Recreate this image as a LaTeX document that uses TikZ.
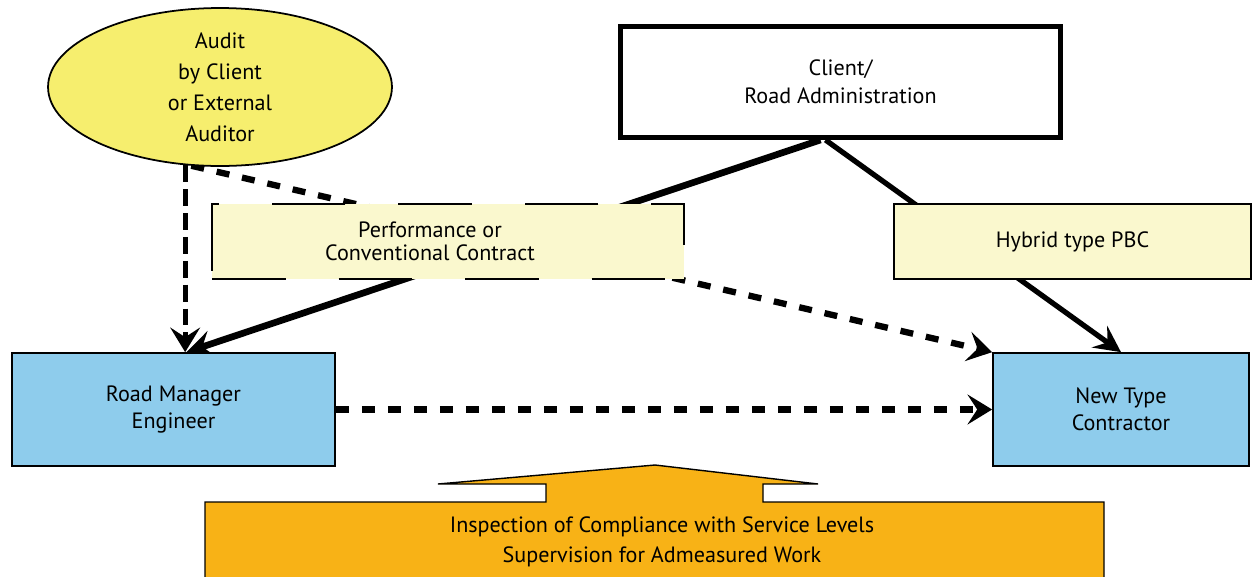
\documentclass[tikz,border=0pt]{standalone}
\usepackage{fontspec}
\setmainfont{PT Sans}
\usetikzlibrary{arrows.meta}
\usetikzlibrary{shapes.geometric}
\usetikzlibrary{backgrounds}

\definecolor{audityellow}{RGB}{246,238,110}
\definecolor{paleyellow}{RGB}{250,248,206}
\definecolor{partyblue}{RGB}{142,204,236}
\definecolor{checkorange}{RGB}{248,178,22}

\begin{document}
\begin{tikzpicture}[x=0.02cm,y=-0.02cm,
  every node/.style={align=center,inner sep=0pt,font=\fontsize{12.6}{16}\selectfont},
  party/.style={rectangle,draw=black,line width=1pt,fill=partyblue,minimum height=2.26cm,font=\fontsize{12.6}{15.3}\selectfont},
  contract/.style={rectangle,draw=black,line width=0.9pt,fill=paleyellow,minimum height=1.5cm},
  link/.style={line width=3.8pt,-{Stealth[length=15pt,width=15pt,inset=5.5pt]}},
  control/.style={line width=3.6pt,dash pattern=on 7.4pt off 7.4pt,-{Stealth[length=14pt,width=17pt,inset=5.5pt]}}]
\useasboundingbox (0,0) rectangle (1252,576);
\node at (220, 87) (auditor) [ellipse,draw=black,line width=1pt,fill=audityellow,minimum width=6.88cm,minimum height=3.16cm,font=\fontsize{12.6}{17.6}\selectfont] {Audit\\by Client\\or External\\Auditor};
\node at (840.5, 82) (client) [rectangle,draw=black,line width=2.8pt,fill=white,minimum width=8.8cm,minimum height=2.22cm,font=\fontsize{12.6}{15.9}\selectfont] {Client/\\Road Administration};
\node at (448, 241.5) (conventional) [contract,minimum width=9.44cm,dash pattern=on 42pt off 30pt,font=\fontsize{12.6}{13}\selectfont] {\hspace*{-0.72cm}Performance or\\\hspace*{-0.72cm}Conventional Contract};
\node at (1072.5, 241.5) (hybrid) [contract,minimum width=7.14cm] {Hybrid type PBC};
\node at (173.5, 409.5) (roadmgr) [party,minimum width=6.46cm] {Road Manager\\Engineer};
\node at (1121, 409.5) (contractor) [party,minimum width=5.12cm] {New Type\\Contractor};
\draw [fill=checkorange,line width=0.8pt] (205,620) -- (205,502) -- (546,502) -- (546,484) -- (438,484) -- (655,465) -- (818,484) -- (763,484) -- (763,502) -- (1104,502) -- (1104,620) -- cycle;
\node at (662, 542) (inspection) [font=\fontsize{12.6}{17}\selectfont] {Inspection of Compliance with Service Levels\\Supervision for Admeasured Work};
\begin{pgfonlayer}{background}
\draw [link] ([xshift=-0.4cm]client.south) -- ([xshift=0.26cm]roadmgr.north);
\draw [link,line width=3pt] ([xshift=-0.3cm]client.south) -- (contractor.north);
\draw [control,line width=2.8pt,dash pattern=on 9.6pt off 4pt] (auditor.246) -- (auditor.246 |- roadmgr.north);
\draw [control] (auditor.250) -- (contractor.north west);
\draw [control] (roadmgr.east) -- (contractor.west);
\end{pgfonlayer}
\end{tikzpicture}
\end{document}
